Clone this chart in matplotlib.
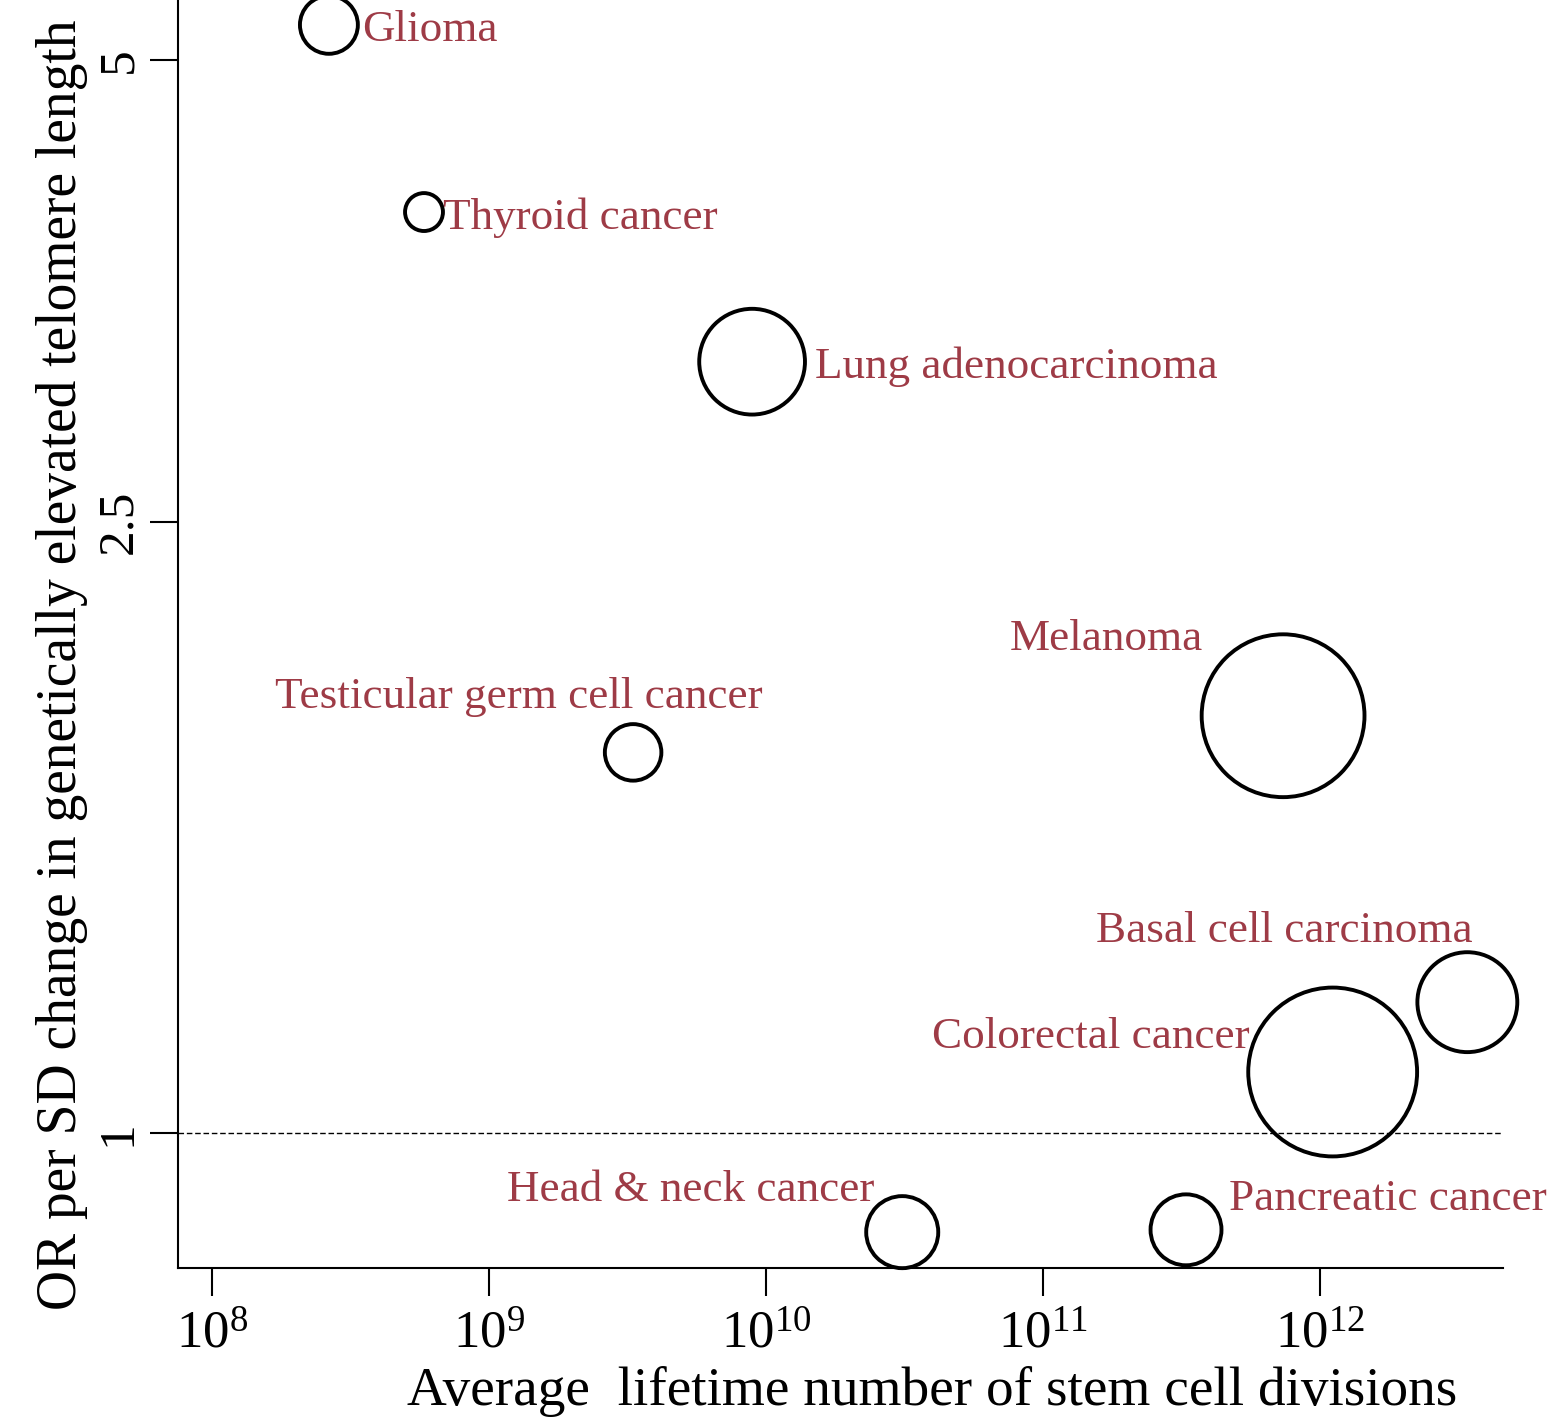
import matplotlib
matplotlib.use("Agg")
import matplotlib.pyplot as plt
import matplotlib.transforms as mtransforms

plt.rcParams['font.family'] = ['Liberation Serif', 'DejaVu Serif']
plt.rcParams['mathtext.fontset'] = 'custom'
plt.rcParams['mathtext.rm'] = 'Liberation Serif'

# data
cancers = ["Glioma", "Thyroid cancer", "Lung adenocarcinoma",
           "Testicular germ cell cancer", "Melanoma", "Basal cell carcinoma",
           "Colorectal cancer", "Head & neck cancer", "Pancreatic cancer"]
stem_divisions = [2.64e8, 5.82e8, 8.9e9, 3.31e9, 7.35e11, 3.40e12, 1.11e12, 3.10e10, 3.28e11]
odds_ratio = [5.27, 3.98, 3.18, 1.77, 1.87, 1.217, 1.096, 0.862, 0.865]
weight = [840, 360, 2800, 800, 6640, 2500, 7140, 1300, 1260]

xticks = [1e8, 1e9, 1e10, 1e11, 1e12]
xticklabels = [r'$\mathregular{10^{8}}$', r'$\mathregular{10^{9}}$', r'$\mathregular{10^{10}}$',
               r'$\mathregular{10^{11}}$', r'$\mathregular{10^{12}}$']
yticks = [1, 2.5, 5]
yticklabels = ['1', '2.5', '5']

# label placement (offset points from bubble centre, alignment)
label_pos = {
    "Glioma": ((24, -4), 'left'),
    "Thyroid cancer": ((14, -4), 'left'),
    "Lung adenocarcinoma": ((45, -4), 'left'),
    "Testicular germ cell cancer": ((-82, 40), 'center'),
    "Melanoma": ((-127, 55), 'center'),
    "Basal cell carcinoma": ((-132, 51), 'center'),
    "Colorectal cancer": ((-60, 25), 'right'),
    "Head & neck cancer": ((-20, 30), 'right'),
    "Pancreatic cancer": ((31, 22), 'left'),
}
label_color = '#9E3B46'

fig = plt.figure(figsize=(15.55, 14.2), dpi=100)
ax = fig.add_axes([0.1145, 0.107, 0.8522, 0.893])

ax.scatter(stem_divisions, odds_ratio, s=[w * 2.07 for w in weight],
           facecolors='none', edgecolors='black', linewidths=2.8, clip_on=False, zorder=3)
ax.axhline(1, color='black', linestyle=(0, (4, 2)), linewidth=1.0, zorder=1)

for name, x, y in zip(cancers, stem_divisions, odds_ratio):
    off, ha = label_pos[name]
    ax.annotate(name, (x, y), xytext=off, textcoords='offset points',
                ha=ha, va='center', fontsize=32.5, color=label_color)

ax.set_xscale('log')
ax.set_yscale('log')
ax.set_xlim(10 ** 7.877, 10 ** 12.661)
ax.set_ylim(0.8168, 5.47)

ax.set_xticks(xticks)
ax.set_xticklabels(xticklabels, fontsize=38)
ax.xaxis.set_minor_locator(matplotlib.ticker.NullLocator())
ax.set_yticks(yticks)
ax.set_yticklabels(yticklabels, fontsize=37, rotation=90, va='center')
ax.yaxis.set_minor_locator(matplotlib.ticker.NullLocator())

yshift = mtransforms.ScaledTranslation(0, 13 / 72, fig.dpi_scale_trans)
for lab in ax.get_yticklabels():
    lab.set_transform(lab.get_transform() + yshift)
xshift = mtransforms.ScaledTranslation(-9 / 72, 0, fig.dpi_scale_trans)
for lab in ax.get_xticklabels():
    lab.set_transform(lab.get_transform() + xshift)

ax.tick_params(axis='both', direction='out', length=20, width=1.5, colors='black')
ax.tick_params(axis='x', pad=11)
ax.tick_params(axis='y', pad=6)

for side in ['top', 'right']:
    ax.spines[side].set_visible(False)
for side in ['left', 'bottom']:
    ax.spines[side].set_linewidth(1.5)

ax.set_xlabel('Average  lifetime number of stem cell divisions', fontsize=39.8)
ax.xaxis.set_label_coords(0.569, -0.077)
ax.set_ylabel('OR per SD change in genetically elevated telomere length', fontsize=40)
ax.yaxis.set_label_coords(-0.068, 0.4756)

fig.savefig('out.png', dpi=100)
